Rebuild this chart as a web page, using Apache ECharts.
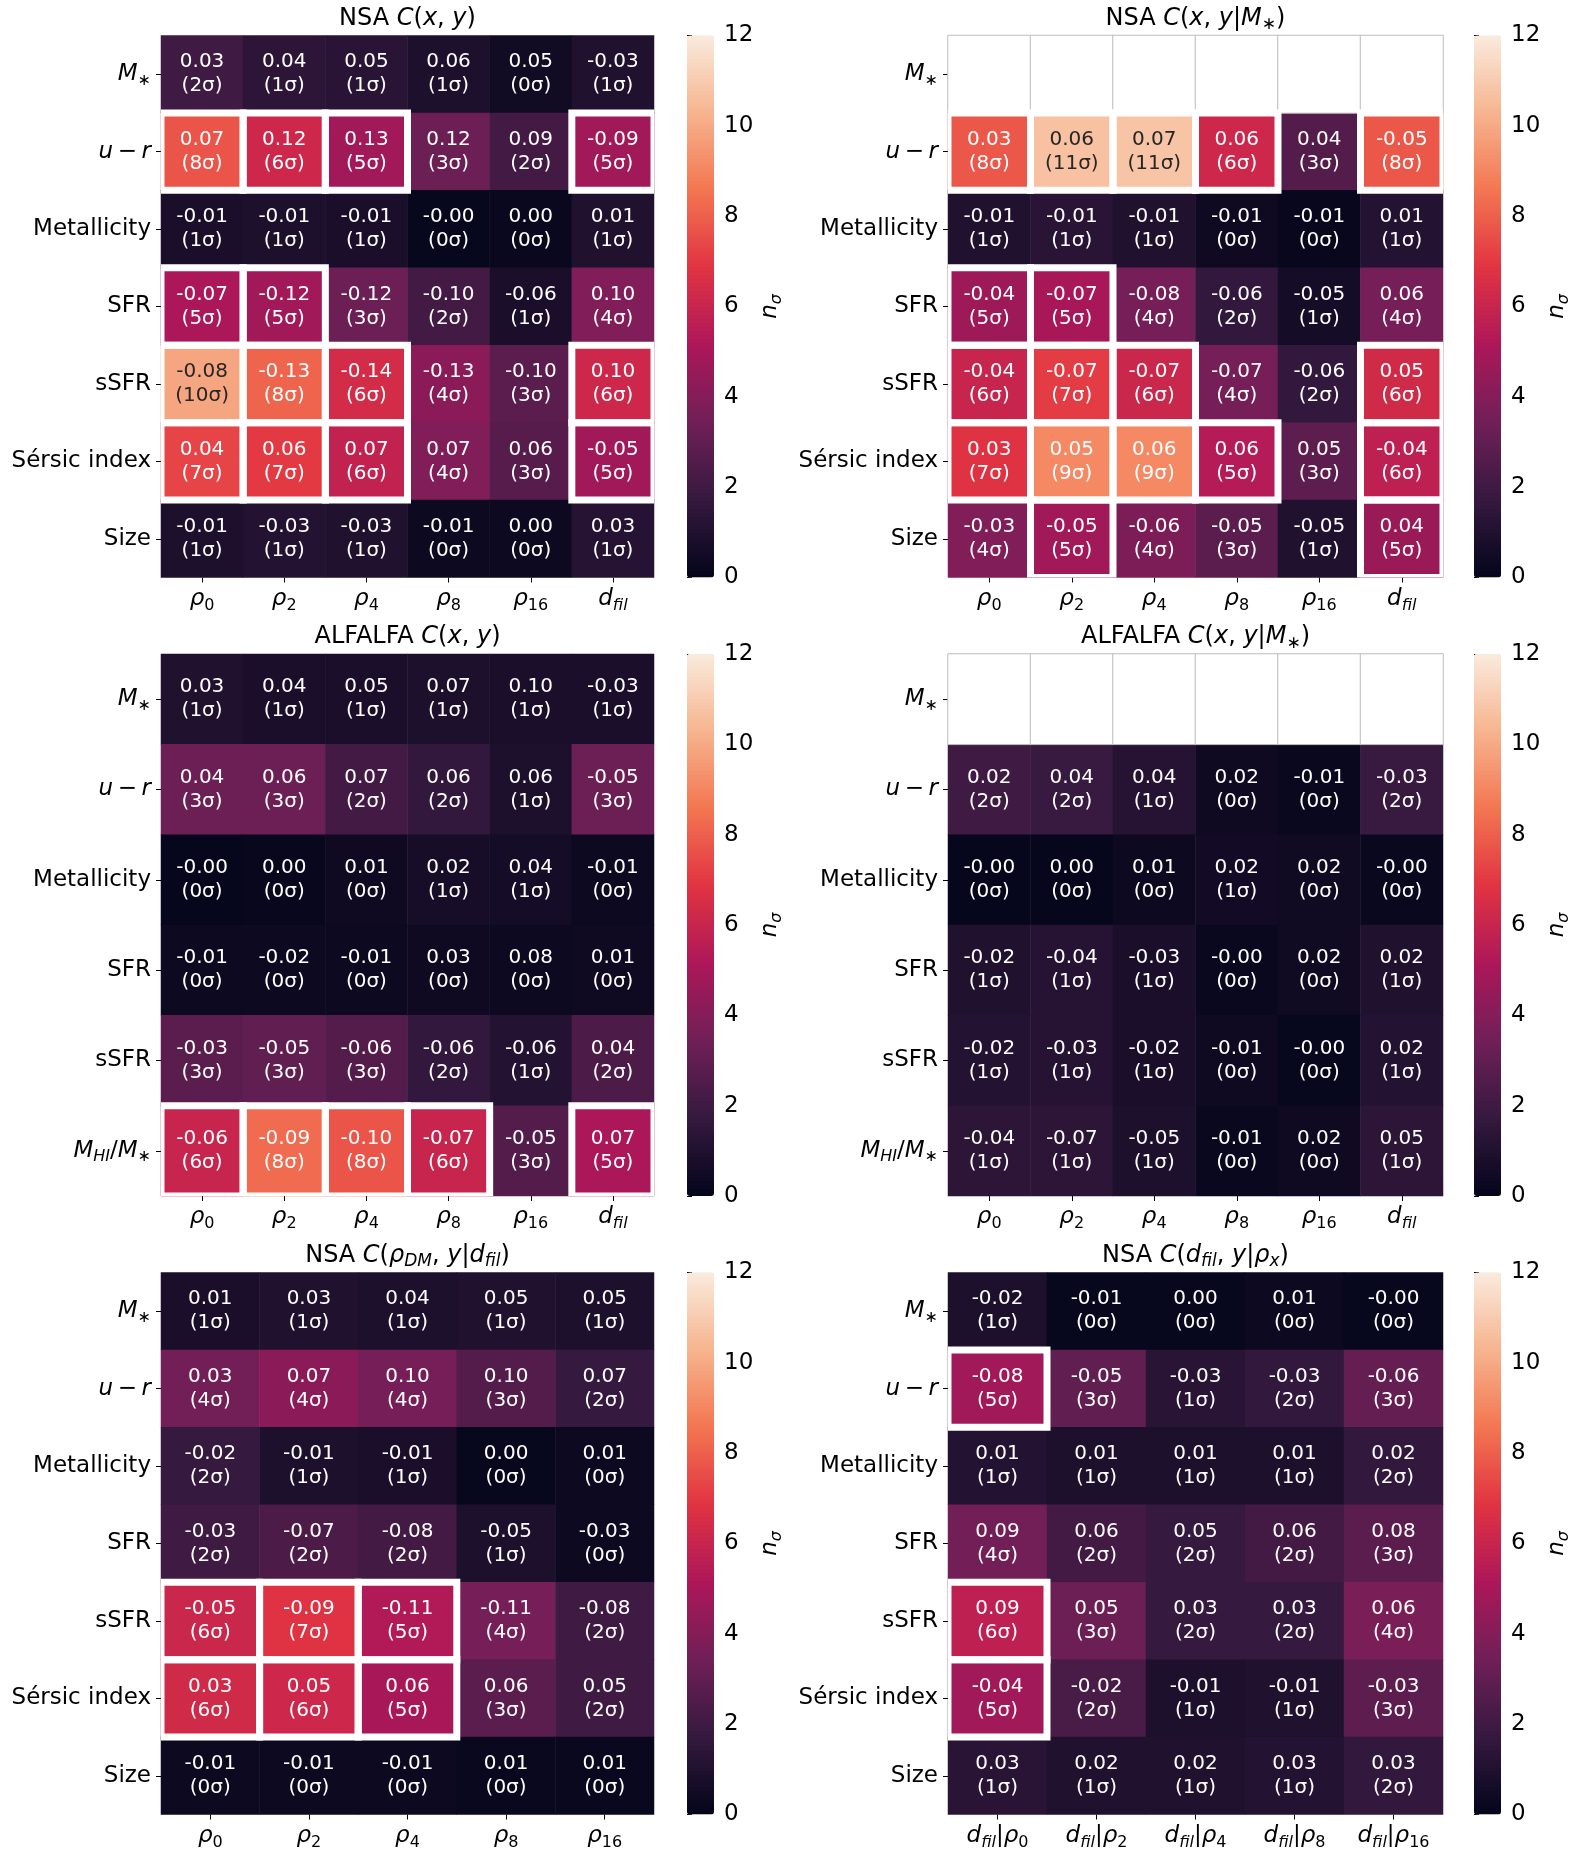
<!DOCTYPE html>
<html>
<head>
<meta charset="utf-8">
<script src="https://cdn.jsdelivr.net/npm/echarts@6.0.0/dist/echarts.min.js"></script>
<style>
html,body{margin:0;padding:0;background:#fff;}
#chart{width:1578px;height:1858px;}
</style>
</head>
<body>
<div id="chart"></div>
<script>
// ---------------- tick labels / categories ----------------
const densCols = ['$ρ_0$', '$ρ_2$', '$ρ_4$', '$ρ_8$', '$ρ_{16}$', '$d_{fil}$'];
const rhoCols = ['$ρ_0$', '$ρ_2$', '$ρ_4$', '$ρ_8$', '$ρ_{16}$'];
const dfilCols = ['$d_{fil}|ρ_0$', '$d_{fil}|ρ_2$', '$d_{fil}|ρ_4$', '$d_{fil}|ρ_8$', '$d_{fil}|ρ_{16}$'];
const nsaRows = ['$M_*$', '$u-r$', 'Metallicity', 'SFR', 'sSFR', 'Sérsic index', 'Size'];
const alfRows = ['$M_*$', '$u-r$', 'Metallicity', 'SFR', 'sSFR', '$M_{HI}/M_*$'];
const cbTicks = [0, 12, 2]; // min, max, step of colour bar

// ---------------- NSA C(x,y) ----------------
const nsaCorr = [
  [0.03, 0.04, 0.05, 0.06, 0.05, -0.03],
  [0.07, 0.12, 0.13, 0.12, 0.09, -0.09],
  [-0.01, -0.01, -0.01, -0.004, 0.00, 0.01],
  [-0.07, -0.12, -0.12, -0.10, -0.06, 0.10],
  [-0.08, -0.13, -0.14, -0.13, -0.10, 0.10],
  [0.04, 0.06, 0.07, 0.07, 0.06, -0.05],
  [-0.01, -0.03, -0.03, -0.01, 0.00, 0.03]
];
const nsaSig = [
  [2.0, 1.4, 1.3, 0.9, 0.48, 1.0],
  [7.7, 6.2, 4.8, 3.3, 2.1, 4.8],
  [0.8, 0.9, 0.8, 0.15, 0.25, 1.0],
  [5.1, 4.8, 3.3, 2.1, 0.8, 3.9],
  [9.9, 8.1, 6.4, 4.2, 2.8, 6.2],
  [7.3, 7.0, 5.8, 3.9, 2.7, 4.8],
  [0.9, 1.1, 1.0, 0.35, 0.3, 1.2]
];

// ---------------- NSA C(x,y|M*) ----------------
const nsaMCorr = [
  [null, null, null, null, null, null],
  [0.03, 0.06, 0.07, 0.06, 0.04, -0.05],
  [-0.01, -0.01, -0.01, -0.01, -0.01, 0.01],
  [-0.04, -0.07, -0.08, -0.06, -0.05, 0.06],
  [-0.04, -0.07, -0.07, -0.07, -0.06, 0.05],
  [0.03, 0.05, 0.06, 0.06, 0.05, -0.04],
  [-0.03, -0.05, -0.06, -0.05, -0.05, 0.04]
];
const nsaMSig = [
  [null, null, null, null, null, null],
  [7.8, 10.7, 10.8, 6.2, 2.6, 7.8],
  [1.0, 1.3, 1.0, 0.4, 0.2, 1.1],
  [4.7, 5.0, 3.6, 1.6, 0.6, 3.6],
  [6.0, 7.1, 6.1, 3.6, 1.6, 6.3],
  [6.8, 9.1, 9.1, 5.4, 2.9, 5.7],
  [3.9, 4.8, 3.8, 2.8, 1.0, 4.6]
];

// ---------------- ALFALFA C(x,y) ----------------
const alfCorr = [
  [0.03, 0.04, 0.05, 0.07, 0.10, -0.03],
  [0.04, 0.06, 0.07, 0.06, 0.06, -0.05],
  [-0.004, 0.00, 0.01, 0.02, 0.04, -0.01],
  [-0.01, -0.02, -0.01, 0.03, 0.08, 0.01],
  [-0.03, -0.05, -0.06, -0.06, -0.06, 0.04],
  [-0.06, -0.09, -0.10, -0.07, -0.05, 0.07]
];
const alfSig = [
  [1.0, 0.8, 0.8, 0.9, 0.8, 0.8],
  [3.3, 3.3, 2.1, 1.6, 0.9, 3.3],
  [0.1, 0.2, 0.4, 0.7, 0.6, 0.35],
  [0.3, 0.35, 0.3, 0.4, 0.35, 0.4],
  [2.8, 3.0, 2.6, 1.6, 1.1, 2.4],
  [6.0, 8.3, 7.7, 6.0, 2.6, 5.1]
];

// ---------------- ALFALFA C(x,y|M*) ----------------
const alfMCorr = [
  [null, null, null, null, null, null],
  [0.02, 0.04, 0.04, 0.02, -0.01, -0.03],
  [-0.004, 0.00, 0.01, 0.02, 0.02, -0.004],
  [-0.02, -0.04, -0.03, -0.004, 0.02, 0.02],
  [-0.02, -0.03, -0.02, -0.01, -0.004, 0.02],
  [-0.04, -0.07, -0.05, -0.01, 0.02, 0.05]
];
const alfMSig = [
  [null, null, null, null, null, null],
  [2.0, 1.8, 1.2, 0.4, 0.25, 1.8],
  [0.1, 0.1, 0.35, 0.55, 0.45, 0.25],
  [1.0, 1.2, 0.8, 0.25, 0.45, 1.0],
  [1.1, 1.2, 0.8, 0.4, 0.15, 1.1],
  [1.4, 1.4, 0.9, 0.25, 0.4, 1.4]
];

// ---------------- NSA C(rho_DM, y | d_fil) ----------------
const rhoCorr = [
  [0.01, 0.03, 0.04, 0.05, 0.05],
  [0.03, 0.07, 0.10, 0.10, 0.07],
  [-0.02, -0.01, -0.01, 0.00, 0.01],
  [-0.03, -0.07, -0.08, -0.05, -0.03],
  [-0.05, -0.09, -0.11, -0.11, -0.08],
  [0.03, 0.05, 0.06, 0.06, 0.05],
  [-0.01, -0.01, -0.01, 0.01, 0.01]
];
const rhoSig = [
  [0.8, 1.0, 0.9, 1.0, 0.9],
  [3.5, 4.2, 3.6, 2.6, 1.7],
  [1.7, 0.9, 0.8, 0.15, 0.3],
  [2.0, 2.4, 2.1, 0.9, 0.3],
  [6.1, 6.8, 5.3, 3.6, 2.0],
  [6.3, 6.2, 5.0, 2.8, 2.0],
  [0.3, 0.3, 0.3, 0.25, 0.25]
];

// ---------------- NSA C(d_fil, y | rho_x) ----------------
const dfilCorr = [
  [-0.02, -0.01, 0.00, 0.01, -0.004],
  [-0.08, -0.05, -0.03, -0.03, -0.06],
  [0.01, 0.01, 0.01, 0.01, 0.02],
  [0.09, 0.06, 0.05, 0.06, 0.08],
  [0.09, 0.05, 0.03, 0.03, 0.06],
  [-0.04, -0.02, -0.01, -0.01, -0.03],
  [0.03, 0.02, 0.02, 0.03, 0.03]
];
const dfilSig = [
  [0.9, 0.15, 0.15, 0.3, 0.15],
  [4.8, 3.0, 1.3, 1.6, 3.1],
  [1.1, 0.9, 0.9, 0.9, 1.6],
  [3.5, 2.1, 1.7, 2.1, 2.8],
  [5.7, 3.3, 1.7, 1.7, 3.7],
  [4.8, 2.3, 0.9, 1.0, 2.9],
  [1.3, 1.0, 1.0, 1.1, 1.6]
];

// seaborn "rocket" colour map stops (evenly spaced)
const ROCKET = ['#03051a', '#35193e', '#701f57', '#ad1759', '#e13342', '#f37651', '#f6b48f', '#faebdd'];
const SIG_THRESHOLD = 5;

// ---------------- helpers ----------------
const FONT = "'DejaVu Sans', sans-serif";

function richStyles(size) {
  const base = { fontFamily: FONT, color: '#000' };
  const lh = Math.round(size * 1.25);
  const ss = Math.round(size * 0.7);
  return {
    r: Object.assign({}, base, { fontSize: size, lineHeight: lh }),
    i: Object.assign({}, base, { fontSize: size, lineHeight: lh, fontStyle: 'italic' }),
    sr: Object.assign({}, base, { fontSize: ss, lineHeight: ss, verticalAlign: 'bottom' }),
    si: Object.assign({}, base, { fontSize: ss, lineHeight: ss, verticalAlign: 'bottom', fontStyle: 'italic' })
  };
}

function mathRich(str) {
  const tokens = [];
  const add = (s, t) => {
    const last = tokens[tokens.length - 1];
    if (last && last.s === s) last.t += t; else tokens.push({ s: s, t: t });
  };
  let math = false;
  for (let i = 0; i < str.length; i++) {
    const c = str[i];
    if (c === '$') { math = !math; continue; }
    if (!math) { add('r', c); continue; }
    if (c === '_') {
      let sub;
      if (str[i + 1] === '{') { const j = str.indexOf('}', i + 2); sub = str.slice(i + 2, j); i = j; }
      else { sub = str[i + 1]; i += 1; }
      for (const sc of sub) {
        if (sc === '*') add('sr', '\u2217');
        else if (/[A-Za-z\u03b1-\u03c9]/.test(sc)) add('si', sc);
        else add('sr', sc);
      }
      continue;
    }
    if (c === '-') { add('r', '\u2009\u2212\u2009'); continue; }
    if (/[A-Za-z\u03b1-\u03c9]/.test(c)) add('i', c); else add('r', c);
  }
  return tokens.map(t => '{' + t.s + '|' + t.t + '}').join('');
}

function hexToRgb(h) { return [parseInt(h.slice(1, 3), 16), parseInt(h.slice(3, 5), 16), parseInt(h.slice(5, 7), 16)]; }
function rocketAt(v) {
  const t = Math.max(0, Math.min(1, v / cbTicks[1])) * (ROCKET.length - 1);
  const k = Math.min(ROCKET.length - 2, Math.floor(t));
  const f = t - k;
  const a = hexToRgb(ROCKET[k]), b = hexToRgb(ROCKET[k + 1]);
  return a.map((x, i) => x + (b[i] - x) * f);
}
function luminance(rgb) {
  const lin = rgb.map(c => { c /= 255; return c <= 0.03928 ? c / 12.92 : Math.pow((c + 0.055) / 1.055, 2.4); });
  return 0.2126 * lin[0] + 0.7152 * lin[1] + 0.0722 * lin[2];
}

// ---------------- panels ----------------
const panels = [
  { title: 'NSA $C(x, y)$', cols: densCols, rows: nsaRows, corr: nsaCorr, sig: nsaSig, left: 161, top: 35.5, width: 493, cb: 687 },
  { title: 'NSA $C(x, y|M_*)$', cols: densCols, rows: nsaRows, corr: nsaMCorr, sig: nsaMSig, left: 948, top: 35.5, width: 495, cb: 1474 },
  { title: 'ALFALFA $C(x, y)$', cols: densCols, rows: alfRows, corr: alfCorr, sig: alfSig, left: 161, top: 654, width: 493, cb: 687 },
  { title: 'ALFALFA $C(x, y|M_*)$', cols: densCols, rows: alfRows, corr: alfMCorr, sig: alfMSig, left: 948, top: 654, width: 495, cb: 1474 },
  { title: 'NSA $C(ρ_{DM}, y|d_{fil})$', cols: rhoCols, rows: nsaRows, corr: rhoCorr, sig: rhoSig, left: 161, top: 1272.5, width: 493, cb: 687 },
  { title: 'NSA $C(d_{fil}, y|ρ_x)$', cols: dfilCols, rows: nsaRows, corr: dfilCorr, sig: dfilSig, left: 948, top: 1272.5, width: 495, cb: 1474 }
];
const PH = 542;   // panel height
const CBW = 27;   // colour bar width

const grid = [], xAxis = [], yAxis = [], series = [], visualMap = [], graphic = [];
const axisRich = richStyles(23);

panels.forEach((p, pi) => {
  grid.push({ left: p.left, top: p.top, width: p.width, height: PH, containLabel: false });
  xAxis.push({
    type: 'category', gridIndex: pi, data: p.cols,
    axisLine: { show: false }, splitLine: { show: false },
    axisTick: { show: true, alignWithLabel: true, length: 5, lineStyle: { color: '#000', width: 1 } },
    axisLabel: { interval: 0, margin: 7, formatter: v => mathRich(v), rich: axisRich }
  });
  yAxis.push({
    type: 'category', gridIndex: pi, data: p.rows, inverse: true,
    axisLine: { show: false }, splitLine: { show: false },
    axisTick: { show: true, alignWithLabel: true, length: 5, lineStyle: { color: '#000', width: 1 } },
    axisLabel: { interval: 0, margin: 10, formatter: v => mathRich(v), rich: axisRich }
  });
});

// colour bar axes
panels.forEach((p, pi) => {
  const gi = panels.length + pi;
  grid.push({ left: p.cb, top: p.top, width: CBW, height: PH });
  xAxis.push({ type: 'value', gridIndex: gi, show: false, min: 0, max: 1 });
  yAxis.push({
    type: 'value', gridIndex: gi, min: cbTicks[0], max: cbTicks[1], interval: cbTicks[2], position: 'right',
    axisLine: { show: false }, splitLine: { show: false },
    axisTick: { show: true, length: 5, lineStyle: { color: '#000', width: 1 } },
    axisLabel: { margin: 10, fontSize: 23, fontFamily: FONT, color: '#000' },
    name: mathRich('$n_σ$'), nameLocation: 'middle', nameRotate: 90, nameGap: 42,
    nameTextStyle: { rich: richStyles(23) }
  });
});

panels.forEach((p, pi) => {
  const cells = [], nanCells = [], strong = [];
  p.rows.forEach((r, ri) => {
    p.cols.forEach((c, ci) => {
      const s = p.sig[ri][ci];
      if (s == null) { nanCells.push([ci, ri, 0]); return; }
      const dark = luminance(rocketAt(s)) > 0.408;
      cells.push({ value: [ci, ri, s], corr: p.corr[ri][ci], label: { color: dark ? '#262626' : '#ffffff' } });
      if (Math.round(s) >= SIG_THRESHOLD) strong.push([ci, ri]);
    });
  });
  const heatIndex = series.length;
  series.push({
    type: 'heatmap', xAxisIndex: pi, yAxisIndex: pi, data: cells, silent: true,
    emphasis: { disabled: true },
    itemStyle: { borderWidth: 0 },
    label: {
      show: true, fontFamily: FONT, fontSize: 20, lineHeight: 24,
      formatter: prm => prm.data.corr.toFixed(2) + '\n(' + Math.round(prm.data.value[2]) + 'σ)'
    }
  });
  if (nanCells.length) {
    series.push({
      type: 'heatmap', xAxisIndex: pi, yAxisIndex: pi, data: nanCells, silent: true,
      emphasis: { disabled: true },
      itemStyle: { color: '#ffffff', borderColor: '#bdbdbd', borderWidth: 1 },
      label: { show: false }
    });
  }
  series.push({
    type: 'custom', coordinateSystem: 'cartesian2d', xAxisIndex: pi, yAxisIndex: pi,
    data: strong, silent: true, z: 5, clip: true,
    renderItem: (params, api) => {
      const pt = api.coord([api.value(0), api.value(1)]);
      const sz = api.size([1, 1]);
      return {
        type: 'rect',
        shape: { x: pt[0] - sz[0] / 2, y: pt[1] - sz[1] / 2, width: sz[0], height: sz[1] },
        style: { fill: 'none', stroke: '#ffffff', lineWidth: 7 }
      };
    }
  });
  visualMap.push({
    type: 'continuous', seriesIndex: heatIndex, dimension: 2,
    min: cbTicks[0], max: cbTicks[1], calculable: false, realtime: false, hoverLink: false,
    orient: 'vertical', left: p.cb, top: p.top, itemWidth: CBW, itemHeight: PH, padding: 0,
    inRange: { color: ROCKET }, text: null, showLabel: false
  });
  graphic.push({
    type: 'text', x: p.left + p.width / 2, y: p.top - 17, silent: true,
    style: { text: mathRich(p.title), rich: richStyles(24), align: 'center', verticalAlign: 'middle' }
  });
});

const chart = echarts.init(document.getElementById('chart'), null, { renderer: 'canvas' });
chart.setOption({
  backgroundColor: '#ffffff',
  animation: false,
  textStyle: { fontFamily: FONT },
  grid, xAxis, yAxis, series, visualMap, graphic
});
</script>
</body>
</html>
